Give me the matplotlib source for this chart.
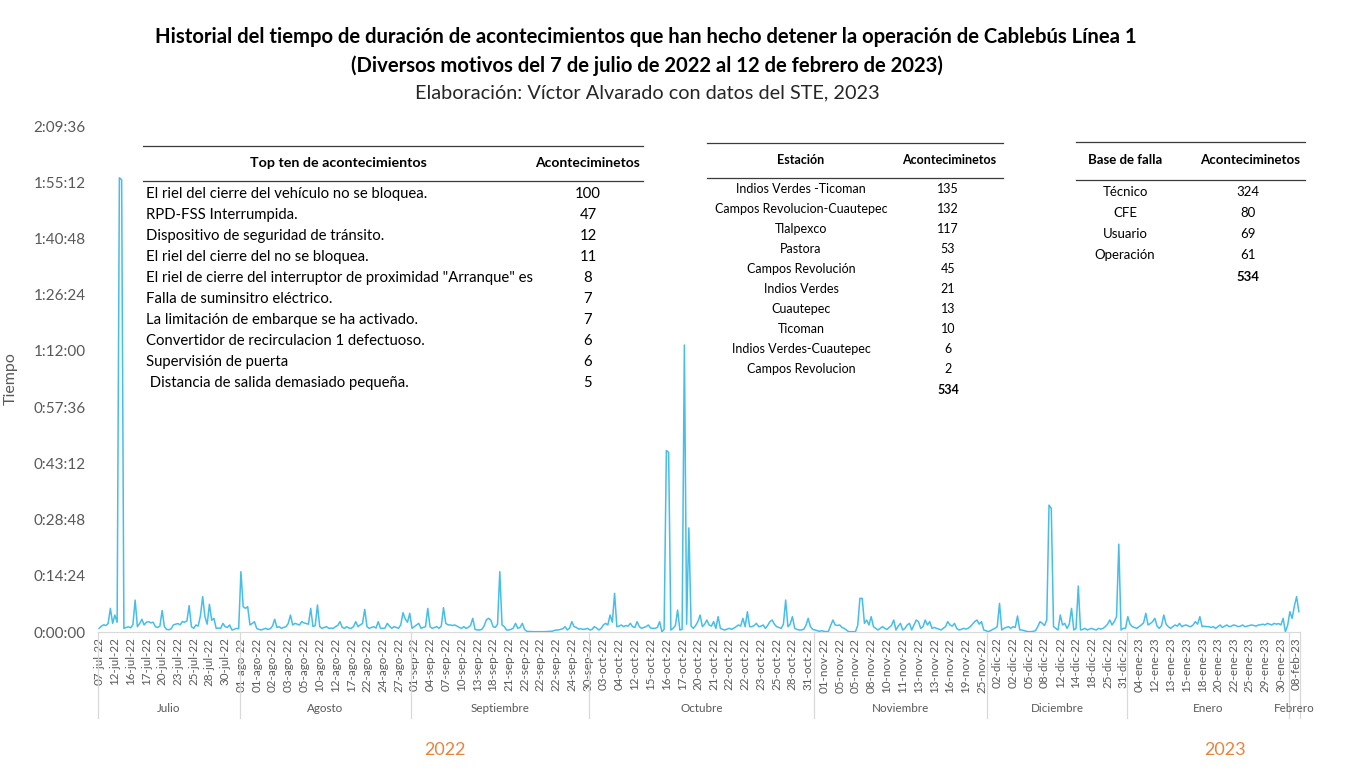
import matplotlib
matplotlib.use("Agg")
import matplotlib.pyplot as plt
from matplotlib.lines import Line2D
from matplotlib.ticker import FuncFormatter
import numpy as np

plt.rcParams['font.family'] = ['Lato', 'DejaVu Sans']

# ---------------- DATA (durations in seconds, one value per event) ----------------
meses = ["Julio", "Agosto", "Septiembre", "Octubre", "Noviembre", "Diciembre", "Enero", "Febrero"]

dur_jul = [56, 90, 110, 100, 130, 363, 133, 260, 150, 6980,
           6950, 56, 70, 80, 65, 110, 490, 82, 130, 195,
           108, 150, 160, 140, 150, 82, 70, 90, 330, 82,
           40, 35, 50, 110, 120, 130, 110, 160, 150, 170,
           405, 82, 56, 108, 90, 250, 543, 235, 120, 425,
           180, 210, 56, 60, 56, 133, 82, 70, 108, 31,
           40, 56, 50]
dur_ago = [927, 389, 364, 389, 108, 130, 159,
           56, 40, 31, 45, 56, 40, 50, 90, 195, 70,
           82, 56, 70, 82, 130, 260, 108, 133, 120, 108,
           159, 140, 130, 120, 363, 82, 100, 415, 82, 56,
           70, 82, 56, 60, 56, 82, 100, 159, 70, 56,
           82, 60, 56, 82, 159, 82, 110, 130, 348, 82,
           56, 70, 82, 60, 159, 56, 56, 60, 133, 90,
           56, 82, 70, 56, 110, 297, 200, 150, 287]
dur_sep = [56, 82, 110, 133, 56, 70, 82, 363, 82, 56, 70,
           82, 56, 90, 374, 133, 110, 108, 100, 108, 90,
           70, 56, 82, 56, 70, 100, 210, 40, 31, 31,
           40, 90, 184, 210, 184, 82, 70, 120, 927, 108,
           82, 31, 31, 40, 60, 133, 56, 70, 133, 40,
           10, 8, 5, 5, 5, 5, 5, 5, 5, 8,
           10, 10, 20, 31, 31, 40, 50, 82, 31, 60,
           159, 82, 70, 45, 50, 40, 45, 56]
dur_oct = [31, 40, 82, 60, 31, 56, 108, 133, 108, 261, 150, 594,
           82, 90, 108, 82, 100, 90, 133, 82, 70, 159,
           82, 56, 70, 82, 108, 60, 56, 56, 70, 159,
           5, 40, 2790, 2760, 31, 56, 100, 338, 31, 40,
           4410, 120, 1600, 90, 56, 100, 160, 261, 82, 120,
           184, 108, 90, 159, 56, 236, 56, 40, 31, 45,
           56, 40, 60, 82, 108, 90, 210, 82, 312, 82,
           82, 100, 133, 82, 90, 108, 56, 100, 159, 184,
           120, 82, 70, 56, 120, 491, 82, 120, 236, 56,
           40, 31, 31, 40, 100, 210, 82, 40]
dur_nov = [31, 20, 10, 20, 10, 5, 10, 100, 184, 108,
           100, 108, 70, 56, 31, 5, 5, 5, 5, 100,
           517, 517, 133, 184, 108, 236, 82, 56, 31, 56,
           82, 56, 40, 70, 100, 184, 31, 90, 133, 31,
           56, 108, 133, 31, 108, 184, 159, 56, 82, 184,
           108, 159, 56, 70, 56, 45, 31, 56, 82, 159,
           108, 90, 133, 56, 31, 40, 56, 45, 56, 82,
           120, 159, 184, 120, 159, 31, 20]
dur_dic = [5, 20, 40, 56, 82, 440, 31, 56, 70, 82,
           56, 82, 70, 246, 31, 31, 20, 10, 5, 5,
           10, 20, 82, 159, 133, 100, 184, 1950, 1900, 82,
           56, 31, 261, 108, 133, 56, 120, 363, 31, 56,
           707, 31, 40, 56, 31, 45, 56, 40, 31, 56,
           45, 56, 82, 120, 184, 108, 160, 236, 1350, 31,
           56, 56]
dur_ene = [236, 120, 82, 70, 56, 82, 108, 140, 287, 108,
           130, 159, 210, 90, 56, 100, 261, 120, 82, 56,
           82, 108, 90, 133, 82, 100, 108, 90, 82, 108,
           159, 120, 236, 82, 90, 82, 82, 70, 82, 56,
           82, 108, 70, 90, 108, 82, 90, 108, 100, 82,
           90, 108, 82, 90, 100, 108, 100, 90, 108, 110,
           120, 108, 133, 120, 108, 133, 120, 130, 108, 210,
           5, 100]
dur_feb = [312, 210, 400, 543, 312]

etiquetas_fecha = [
    "07-jul-22", "12-jul-22", "16-jul-22", "17-jul-22", "20-jul-22", "23-jul-22", "25-jul-22", "28-jul-22", "30-jul-22",
    "01-ago-22", "01-ago-22", "02-ago-22", "03-ago-22", "05-ago-22", "10-ago-22", "12-ago-22", "17-ago-22", "22-ago-22",
    "24-ago-22", "27-ago-22",
    "01-sep-22", "04-sep-22", "07-sep-22", "10-sep-22", "13-sep-22", "18-sep-22", "21-sep-22", "22-sep-22", "22-sep-22",
    "22-sep-22", "24-sep-22", "30-sep-22",
    "03-oct-22", "04-oct-22", "12-oct-22", "15-oct-22", "16-oct-22", "17-oct-22", "20-oct-22", "21-oct-22", "22-oct-22",
    "22-oct-22", "23-oct-22", "25-oct-22", "28-oct-22", "31-oct-22",
    "01-nov-22", "05-nov-22", "05-nov-22", "08-nov-22", "10-nov-22", "11-nov-22", "13-nov-22", "13-nov-22", "16-nov-22",
    "19-nov-22", "25-nov-22",
    "02-dic-22", "02-dic-22", "05-dic-22", "08-dic-22", "12-dic-22", "14-dic-22", "18-dic-22", "25-dic-22", "31-dic-22",
    "04-ene-23", "12-ene-23", "13-ene-23", "15-ene-23", "18-ene-23", "20-ene-23", "22-ene-23", "25-ene-23", "29-ene-23",
    "30-ene-23",
    "08-feb-23"]
intervalo_etiquetas = 7

anios = ["2022", "2023"]

top_causas = ["El riel del cierre del vehículo no se bloquea.",
              "RPD-FSS Interrumpida.",
              "Dispositivo de seguridad de tránsito.",
              "El riel del cierre del no se bloquea.",
              "El riel de cierre del interruptor de proximidad \"Arranque\" es",
              "Falla de suminsitro eléctrico.",
              "La limitación de embarque se ha activado.",
              "Convertidor de recirculacion 1 defectuoso.",
              "Supervisión de puerta",
              " Distancia de salida demasiado pequeña."]
top_causas_n = [100, 47, 12, 11, 8, 7, 7, 6, 6, 5]

estaciones = ["Indios Verdes -Ticoman", "Campos Revolucion-Cuautepec", "Tlalpexco", "Pastora",
              "Campos Revolución", "Indios Verdes", "Cuautepec", "Ticoman",
              "Indios Verdes-Cuautepec", "Campos Revolucion"]
estaciones_n = [135, 132, 117, 53, 45, 21, 13, 10, 6, 2]

base_falla = ["Técnico", "CFE", "Usuario", "Operación"]
base_falla_n = [324, 80, 69, 61]

# ---------------- FIGURE ----------------
W, H = 1347, 774
def fx(px):
    return px / W
def fy(py):
    return 1 - py / H

fig = plt.figure(figsize=(W / 100, H / 100), dpi=100)
fig.patch.set_facecolor('white')

ax = fig.add_axes([fx(98), fy(632), (1300 - 98) / W, (632 - 126) / H])

series = [dur_jul, dur_ago, dur_sep, dur_oct, dur_nov, dur_dic, dur_ene, dur_feb]
duraciones = np.concatenate([np.array(s, dtype=float) for s in series])
n = len(duraciones)
x = np.arange(n)

ax.plot(x, duraciones, color='#45BEEA', lw=1.1, zorder=3)
ax.set_xlim(-0.5, n - 0.5)
ax.set_ylim(0, 7776)

grey = '#595959'
ax.set_yticks(np.arange(0, 7777, 864))
def hms(v, pos):
    v = int(round(v))
    return f"{v // 3600}:{(v % 3600) // 60:02d}:{v % 60:02d}"
ax.yaxis.set_major_formatter(FuncFormatter(hms))
ax.tick_params(axis='y', length=0, labelsize=11, colors=grey, pad=9)

ticks = np.arange(0, n, intervalo_etiquetas)[:len(etiquetas_fecha)]
ax.set_xticks(ticks)
ax.set_xticklabels(etiquetas_fecha, rotation=90, fontsize=8.4, color=grey)
ax.tick_params(axis='x', length=0, pad=4)

for s in ['top', 'right', 'left']:
    ax.spines[s].set_visible(False)
ax.spines['bottom'].set_color('#D9D9D9')

ax.set_ylabel("Tiempo", fontsize=11.5, color=grey)
ax.yaxis.set_label_coords((18 - 98) / 1202, 0.5)

# month groups
trans = ax.get_xaxis_transform()
starts = np.cumsum([0] + [len(s) for s in series])
y_line_bot = (632 - 718) / 506
for b in starts:
    ax.add_line(Line2D([b - 0.5, b - 0.5], [0, y_line_bot], transform=trans,
                       color='#D9D9D9', lw=0.9, clip_on=False))
for i, m in enumerate(meses):
    c = (starts[i] + starts[i + 1] - 1) / 2
    ax.text(c, (632 - 709) / 506, m, transform=trans, ha='center', va='center',
            fontsize=8.4, color=grey)

# years
year_color = '#E8853D'
ax.text((445 - 98) / 1202, (632 - 750) / 506, anios[0], transform=ax.transAxes,
        ha='center', va='center', fontsize=13, color=year_color)
ax.text((1225 - 98) / 1202, (632 - 750) / 506, anios[1], transform=ax.transAxes,
        ha='center', va='center', fontsize=13, color=year_color)

# titles
fig.text(fx(646), fy(37), "Historial del tiempo de duración de acontecimientos que han hecho detener la operación de Cablebús Línea 1",
         ha='center', va='center', fontsize=14.6, fontweight='bold', color='black')
fig.text(fx(647), fy(66), "(Diversos motivos del 7 de julio de 2022 al 12 de febrero de 2023)",
         ha='center', va='center', fontsize=14.6, fontweight='bold', color='black')
fig.text(fx(647), fy(93), "Elaboración: Víctor Alvarado con datos del STE, 2023",
         ha='center', va='center', fontsize=14.3, color='#262626')

def hline(x0, x1, y):
    fig.add_artist(Line2D([fx(x0), fx(x1)], [fy(y), fy(y)], color='#3a3a3a', lw=0.9))

# table 1
hline(143, 643, 146)
hline(143, 643, 181)
fig.text(fx(338), fy(163), "Top ten de acontecimientos", ha='center', va='center', fontsize=10.3, fontweight='bold')
fig.text(fx(588), fy(163), "Aconteciminetos", ha='center', va='center', fontsize=10, fontweight='bold')
for i, (t, v) in enumerate(zip(top_causas, top_causas_n)):
    yy = 194 + 21 * i
    fig.text(fx(146), fy(yy), t, ha='left', va='center', fontsize=10.7)
    fig.text(fx(588), fy(yy), str(v), ha='center', va='center', fontsize=10.7)

# table 2
hline(707, 1003, 143)
hline(707, 1003, 178)
fig.text(fx(801), fy(160), "Estación", ha='center', va='center', fontsize=9, fontweight='bold')
fig.text(fx(949), fy(160), "Aconteciminetos", ha='center', va='center', fontsize=9, fontweight='bold')
for i, (t, v) in enumerate(zip(estaciones, estaciones_n)):
    yy = 189 + 20 * i
    fig.text(fx(801), fy(yy), t, ha='center', va='center', fontsize=9)
    fig.text(fx(948), fy(yy), str(v), ha='center', va='center', fontsize=9)
fig.text(fx(948), fy(390), str(sum(estaciones_n)), ha='center', va='center', fontsize=9, fontweight='bold')

# table 3
hline(1076, 1305, 142)
hline(1076, 1305, 180)
fig.text(fx(1125), fy(160), "Base de falla", ha='center', va='center', fontsize=9.5, fontweight='bold')
fig.text(fx(1250), fy(160), "Aconteciminetos", ha='center', va='center', fontsize=9.5, fontweight='bold')
for i, (t, v) in enumerate(zip(base_falla, base_falla_n)):
    yy = 192 + 21 * i
    fig.text(fx(1125), fy(yy), t, ha='center', va='center', fontsize=9.5)
    fig.text(fx(1248), fy(yy), str(v), ha='center', va='center', fontsize=9.5)
fig.text(fx(1248), fy(277), str(sum(base_falla_n)), ha='center', va='center', fontsize=9.5, fontweight='bold')

fig.savefig("out.png", dpi=100, facecolor='white')
